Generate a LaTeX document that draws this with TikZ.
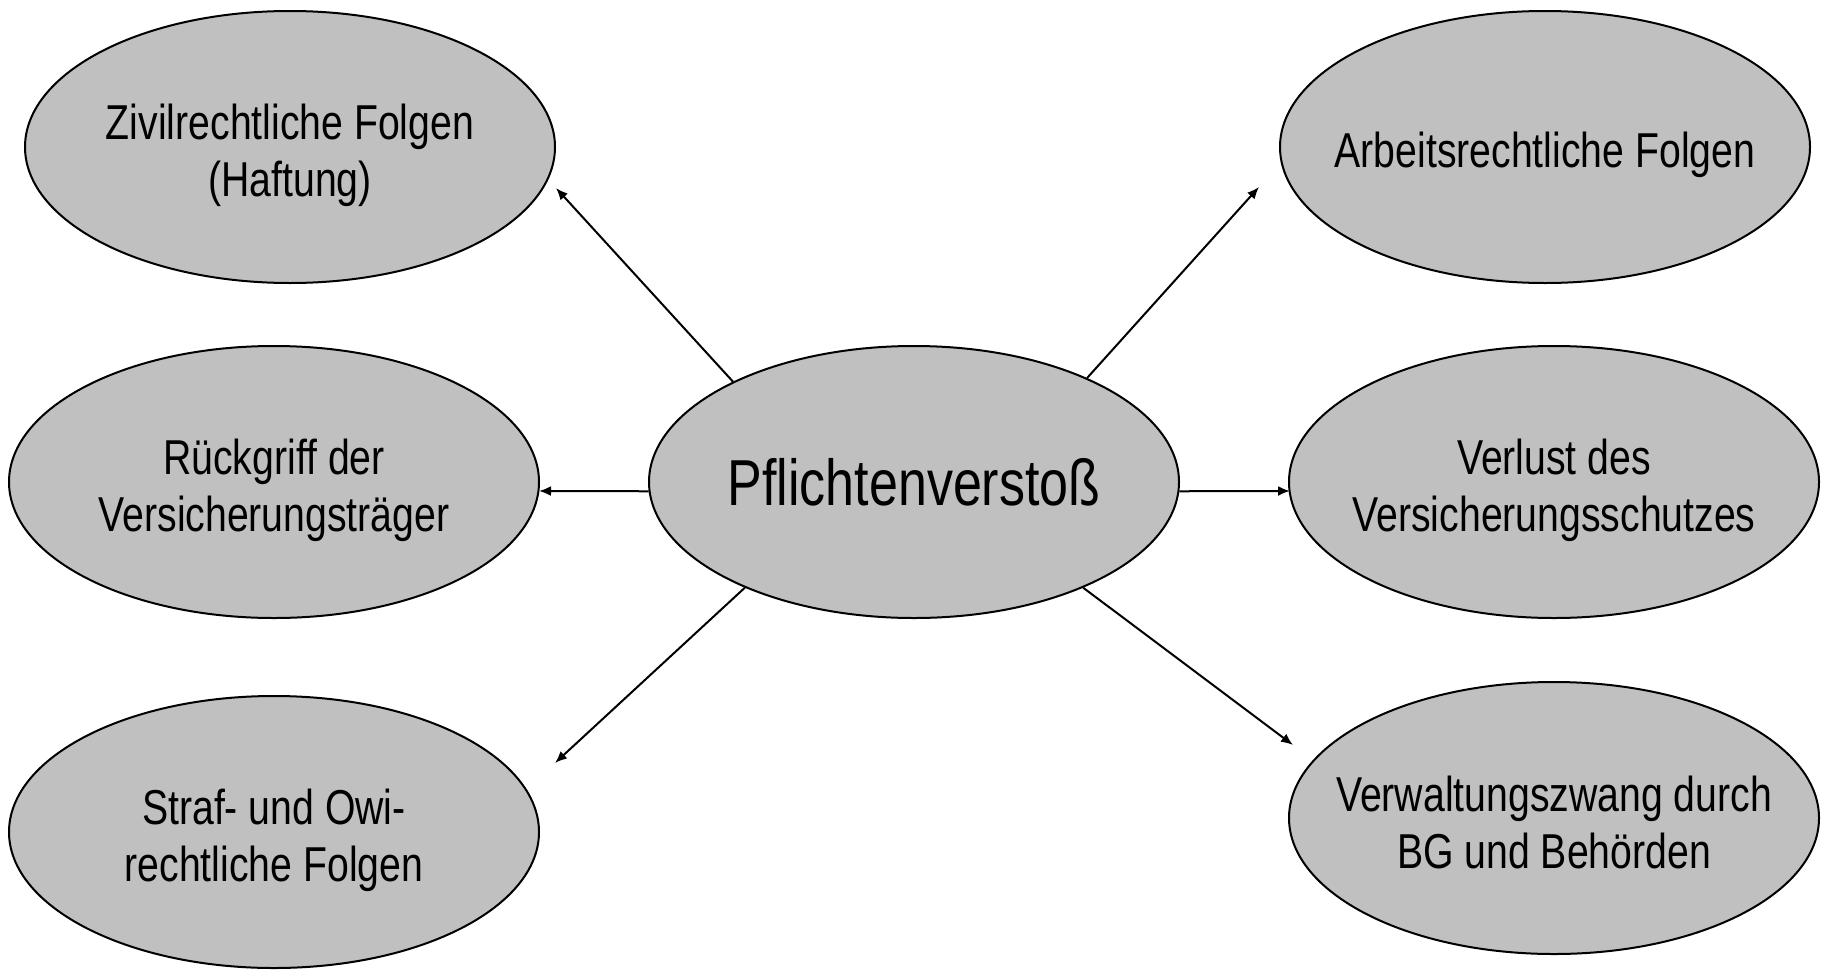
\documentclass[tikz,border=0pt]{standalone}
\usepackage{fontspec}
\setmainfont{Liberation Sans}[FakeStretch=0.8]
\usetikzlibrary{shapes.geometric,arrows.meta}
\definecolor{ovalgray}{HTML}{C0C0C0}
\tikzset{
	oval/.style = {ellipse, draw, line width = 1pt, fill = ovalgray, minimum width = 265pt, minimum height = 136pt, inner sep = 0pt},
	ovaltext/.style = {align = center, inner sep = 0pt, yshift = -4pt, font = \fontsize{24.5pt}{28.5pt}\selectfont},
	folge/.style = {line width = 1pt, -{Latex[length = 6pt, width = 5pt]}}
}
\begin{document}
\begin{tikzpicture}[x = 0.5pt, y = -0.5pt]
	 \useasboundingbox (0, 0) rectangle (1825, 969);
	 
	 \node[oval] (zivil) at (290, 147) {};
	 \node[oval] (arbeit) at (1545, 147) {};
	 \node[oval] (rueck) at (274, 482) {};
	 \node[oval, font = \fontsize{32.5pt}{36pt}\selectfont] (pflicht) at (914, 482) {Pflichtenverstoß};
	 \node[oval] (verlust) at (1554, 482) {};
	 \node[oval] (straf) at (274, 832) {};
	 \node[oval] (verwalt) at (1554, 818) {};
	 
	 \node[ovaltext] (zivilText) at (zivil) {Zivilrechtliche Folgen\\(Haftung)};
	 \node[ovaltext] (arbeitText) at (arbeit) {Arbeitsrechtliche Folgen};
	 \node[ovaltext] (rueckText) at (rueck) {Rückgriff der\\Versicherungsträger};
	 \node[ovaltext] (verlustText) at (verlust) {Verlust des\\Versicherungsschutzes};
	 \node[ovaltext] (strafText) at (straf) {Straf- und Owi-\\rechtliche Folgen};
	 \node[ovaltext, yshift = 2pt] (verwaltText) at (verwalt) {Verwaltungszwang durch\\BG und Behörden};
	 
	 \coordinate (tZivil) at (556, 188);
	 \coordinate (tArbeit) at (1259, 187);
	 \coordinate (tRueck) at (539, 491);
	 \coordinate (tVerlust) at (1290, 491);
	 \coordinate (tStraf) at (555, 763);
	 \coordinate (tVerwalt) at (1293, 745);
	 
	 \foreach \a/\t in {151/tZivil, 31/tArbeit, 182/tRueck, 358/tVerlust, 212/tStraf, 328/tVerwalt}
	 \draw[folge] (pflicht.\a) -- (\t);
\end{tikzpicture}
\end{document}
